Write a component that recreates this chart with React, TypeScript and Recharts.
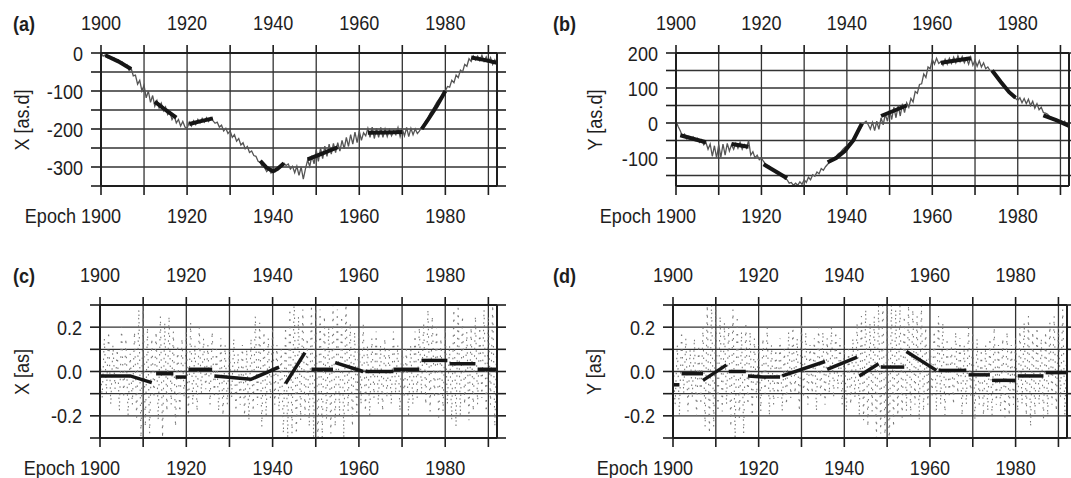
import React from "react";
import { ComposedChart, Line, XAxis, YAxis, CartesianGrid } from "recharts";

const FONT = '"Liberation Sans", Arial, sans-serif';
const INK = "#1e1e1e";
const SQUEEZE = 0.86;

const YEAR_TICKS = [1900, 1910, 1920, 1930, 1940, 1950, 1960, 1970, 1980, 1990];
const YEAR_LABELS = [1900, 1920, 1940, 1960, 1980];

// half-year samples, 1900.0 .. 1992.0
const X_DAILY = [
  0, -8, -5, -12, -9, -17, -13, -21, -18, -27,
  -24, -35, -31, -45, -40, -60, -58, -82, -72, -100,
  -85, -118, -100, -130, -112, -140, -125, -145, -132, -152,
  -142, -162, -155, -175, -165, -184, -175, -192, -180, -195,
  -198, -182, -192, -178, -188, -175, -184, -172, -182, -170,
  -180, -170, -178, -185, -182, -195, -190, -205, -198, -212,
  -205, -222, -215, -232, -225, -242, -236, -252, -246, -262,
  -258, -270, -272, -285, -288, -300, -302, -312, -305, -316,
  -308, -312, -302, -300, -294, -290, -296, -292, -305, -298,
  -315, -298, -322, -300, -332, -305, -282, -298, -270, -292,
  -255, -285, -250, -278, -245, -272, -240, -266, -238, -262,
  -236, -258, -230, -252, -222, -246, -215, -240, -208, -236,
  -205, -230, -210, -218, -198, -222, -195, -225, -198, -222,
  -196, -222, -200, -220, -202, -218, -205, -215, -196, -220,
  -200, -218, -196, -220, -198, -215, -200, -212, -205, -195,
  -188, -178, -170, -158, -150, -140, -130, -122, -115, -108,
  -100, -88, -90, -72, -78, -58, -65, -45, -50, -30,
  -35, -15, -22, -8, -18, -8, -20, -6, -22, -10,
  -25, -12, -30, -18, -32,
];

const Y_DAILY = [
  5, -10, -22, -38, -32, -45, -38, -48, -40, -50,
  -44, -55, -48, -62, -55, -75, -60, -95, -65, -100,
  -62, -98, -60, -92, -58, -80, -62, -75, -58, -72,
  -55, -75, -62, -72, -50, -92, -82, -100, -92, -105,
  -100, -110, -118, -122, -125, -132, -135, -142, -140, -148,
  -150, -160, -162, -172, -170, -178, -172, -178, -168, -175,
  -162, -170, -155, -162, -148, -152, -140, -145, -130, -135,
  -125, -118, -110, -108, -100, -95, -88, -84, -76, -70,
  -65, -58, -52, -44, -38, -28, -20, -10, 0, 5,
  -5, -18, 2, -22, 5, -18, 15, -5, 25, 5,
  38, 10, 45, 15, 50, 20, 55, 30, 58, 45,
  70, 60, 90, 85, 110, 112, 140, 130, 160, 155,
  182, 168, 185, 170, 175, 165, 182, 168, 185, 170,
  188, 172, 192, 175, 190, 172, 185, 168, 188, 165,
  180, 162, 178, 160, 172, 155, 160, 150, 148, 140,
  135, 128, 120, 110, 102, 95, 88, 82, 78, 70,
  65, 72, 58, 70, 55, 68, 50, 62, 42, 55,
  38, 45, 30, 28, 25, 18, 15, 12, 10, 5,
  8, -2, 5, -8, -12,
];

const X_RESID = [
  0.08, -0.12, 0.15, -0.1, 0.18, -0.15, 0.12, -0.08, 0.1, -0.18,
  0.2, -0.12, 0.15, -0.2, 0.08, -0.15, 0.18, -0.22, 0.28, -0.3,
  0.3, -0.25, 0.2, -0.28, 0.15, -0.12, 0.18, -0.22, 0.25, -0.3,
  0.22, -0.18, 0.25, -0.15, 0.18, -0.25, 0.12, -0.2, 0.15, -0.12,
  0.18, -0.2, 0.22, -0.15, 0.12, -0.18, 0.2, -0.1, 0.15, -0.08,
  0.12, -0.15, 0.18, -0.12, 0.1, -0.18, 0.15, -0.2, 0.12, -0.15,
  0.1, -0.12, 0.15, -0.18, 0.08, -0.15, 0.12, -0.2, 0.1, -0.22,
  0.15, -0.18, 0.25, -0.15, 0.22, -0.25, 0.18, -0.2, 0.15, -0.12,
  0.2, -0.15, 0.12, -0.18, 0.1, -0.28, 0.2, -0.3, 0.3, -0.28,
  0.35, -0.3, 0.25, -0.22, 0.28, -0.2, 0.15, -0.25, 0.3, -0.3,
  0.32, -0.35, 0.28, -0.3, 0.25, -0.22, 0.2, -0.28, 0.3, -0.25,
  0.28, -0.2, 0.25, -0.3, 0.32, -0.18, 0.22, -0.25, 0.18, -0.2,
  0.2, -0.15, 0.22, -0.18, 0.12, -0.2, 0.15, -0.12, 0.18, -0.15,
  0.12, -0.18, 0.15, -0.12, 0.1, -0.15, 0.18, -0.1, 0.12, -0.18,
  0.15, -0.12, 0.1, -0.2, 0.12, -0.15, 0.18, -0.12, 0.2, -0.1,
  0.22, -0.15, 0.28, -0.18, 0.25, -0.12, 0.2, -0.22, 0.15, -0.18,
  0.2, -0.15, 0.12, -0.22, 0.28, -0.25, 0.3, -0.2, 0.25, -0.15,
  0.18, -0.22, 0.2, -0.18, 0.25, -0.15, 0.2, -0.12, 0.28, -0.2,
  0.25, -0.15, 0.3, -0.25, 0.2,
];

const Y_RESID = [
  0.05, -0.15, 0.12, -0.2, 0.18, -0.1, 0.15, -0.18, 0.1, -0.12,
  0.15, -0.2, 0.12, -0.15, 0.2, -0.25, 0.3, -0.28, 0.32, -0.25,
  0.28, -0.2, 0.25, -0.18, 0.22, -0.15, 0.2, -0.25, 0.28, -0.3,
  0.25, -0.22, 0.18, -0.28, 0.22, -0.15, 0.18, -0.2, 0.15, -0.12,
  0.12, -0.18, 0.15, -0.1, 0.2, -0.2, 0.12, -0.15, 0.1, -0.12,
  0.15, -0.18, 0.1, -0.15, 0.18, -0.12, 0.2, -0.1, 0.15, -0.18,
  0.22, -0.12, 0.18, -0.15, 0.12, -0.1, 0.15, -0.18, 0.2, -0.12,
  0.18, -0.15, 0.15, -0.1, 0.2, -0.12, 0.18, -0.08, 0.15, -0.15,
  0.12, -0.18, 0.1, -0.15, 0.15, -0.12, 0.22, -0.2, 0.25, -0.22,
  0.28, -0.25, 0.22, -0.18, 0.25, -0.3, 0.3, -0.28, 0.35, -0.32,
  0.3, -0.35, 0.32, -0.25, 0.28, -0.2, 0.3, -0.22, 0.25, -0.18,
  0.3, -0.2, 0.28, -0.15, 0.25, -0.22, 0.3, -0.18, 0.2, -0.15,
  0.18, -0.12, 0.2, -0.18, 0.25, -0.15, 0.22, -0.2, 0.15, -0.12,
  0.12, -0.15, 0.18, -0.1, 0.15, -0.2, 0.12, -0.15, 0.2, -0.12,
  0.18, -0.22, 0.15, -0.15, 0.1, -0.2, 0.12, -0.18, 0.15, -0.2,
  0.2, -0.15, 0.12, -0.18, 0.15, -0.22, 0.18, -0.2, 0.12, -0.15,
  0.15, -0.18, 0.2, -0.15, 0.22, -0.2, 0.25, -0.25, 0.18, -0.2,
  0.2, -0.15, 0.15, -0.22, 0.18, -0.2, 0.22, -0.15, 0.25, -0.18,
  0.2, -0.12, 0.28, -0.2, 0.15,
];

// fitted segments [year, value]
const X_FITS = [
  [[1901, -6], [1904, -22], [1907, -42]],
  [[1912.5, -128], [1915, -150], [1917.5, -170]],
  [[1920.5, -187], [1923, -180], [1926, -172]],
  [[1937, -284], [1938.5, -302], [1940, -311], [1941, -305], [1942.5, -290]],
  [[1948, -280], [1951.5, -264], [1955, -248]],
  [[1962, -210], [1966, -209], [1970, -208]],
  [[1974.5, -200], [1976, -175], [1978, -140], [1980, -100]],
  [[1986, -12], [1989, -18], [1992, -26]],
];

const Y_FITS = [
  [[1901, -35], [1907, -55]],
  [[1913, -60], [1917, -68]],
  [[1920.5, -118], [1926, -158]],
  [[1935.5, -112], [1937.5, -100], [1939.5, -80], [1941.5, -50], [1943.5, -2]],
  [[1948, 20], [1954, 50]],
  [[1962, 172], [1969, 185]],
  [[1974, 150], [1976, 118], [1978, 88], [1979.5, 72]],
  [[1986, 22], [1989, 8], [1992, -8]],
];

const XR_FITS = [
  [[1900, -0.02], [1907, -0.02], [1912, -0.05]],
  [[1913, -0.01], [1917, -0.01]],
  [[1917.5, -0.025], [1920, -0.025]],
  [[1920.5, 0.01], [1926, 0.01]],
  [[1926.5, -0.02], [1935, -0.035], [1941.5, 0.02]],
  [[1943, -0.055], [1947.5, 0.085]],
  [[1949, 0.01], [1954, 0.01]],
  [[1954.5, 0.04], [1961, 0.0]],
  [[1961.5, 0.0], [1968, 0.0]],
  [[1968, 0.01], [1974, 0.01]],
  [[1974.5, 0.05], [1980.5, 0.05]],
  [[1981, 0.035], [1987, 0.035]],
  [[1987.5, 0.01], [1992, 0.01]],
];

const YR_FITS = [
  [[1900, -0.06], [1901.5, -0.06]],
  [[1902, -0.01], [1907, -0.01]],
  [[1907, -0.04], [1912.5, 0.03]],
  [[1913, 0.0], [1917, 0.0]],
  [[1917.5, -0.02], [1921, -0.025], [1925, -0.025]],
  [[1925.5, -0.02], [1935.5, 0.045]],
  [[1936, 0.01], [1943, 0.065]],
  [[1943.5, -0.02], [1948, 0.035]],
  [[1948.5, 0.02], [1954, 0.02]],
  [[1954.5, 0.09], [1961.5, 0.005]],
  [[1962, 0.005], [1968.5, 0.005]],
  [[1969, -0.015], [1974, -0.015]],
  [[1974.5, -0.04], [1980, -0.04]],
  [[1980.5, -0.02], [1986.5, -0.02]],
  [[1987, -0.005], [1992, -0.005]],
];

const DAILY_TICKS_X = [0, -50, -100, -150, -200, -250, -300, -350];
const DAILY_TICKS_Y = [200, 150, 100, 50, 0, -50, -100, -150];
const RESID_TICKS = [-0.3, -0.2, -0.1, 0, 0.1, 0.2, 0.3];

const toSeries = (vals: number[]) => vals.map((v, i) => ({ t: 1900 + i * 0.5, v }));
const toFit = (pts: number[][]) => pts.map(([t, v]) => ({ t, v }));

// narrow-looking svg text
const T = ({ x, y, anchor, dy, children }: any) => (
  <text
    transform={`translate(${x} ${y}) scale(${SQUEEZE} 1)`}
    dy={dy}
    textAnchor={anchor}
    fontFamily={FONT}
    fontSize={21}
    fill={INK}
  >
    {children}
  </text>
);

interface PanelProps {
  left: number;
  top: number;
  width: number;
  x0: number;
  x1: number;
  tag: string;
  title: string;
  titleX: number;
  domain: [number, number];
  ticks: number[];
  labels: number[];
  fmt: (v: number) => string;
  values: number[];
  fits: number[][][];
  dotted?: boolean;
}

const H = 235;
const Y0 = 53;
const Y1 = 186;

function Panel(p: PanelProps) {
  const series = toSeries(p.values);
  const margin = { top: 0, left: 0, right: p.width - p.x1 - 12, bottom: H - Y1 - 40 };
  const isLabel = (v: number) => p.labels.some((l) => Math.abs(l - v) < 1e-9);

  const topTick = (t: any) =>
    YEAR_LABELS.includes(t.payload.value) ? (
      <T x={t.x} y={30} anchor="middle">{t.payload.value}</T>
    ) : <g />;
  const bottomTick = (t: any) => {
    const v = t.payload.value;
    if (!YEAR_LABELS.includes(v)) return <g />;
    return (
      <g>
        {v === 1900 && <T x={t.x - 25} y={223} anchor="end">Epoch</T>}
        <T x={t.x} y={223} anchor="middle">{v}</T>
      </g>
    );
  };
  const leftTick = (t: any) =>
    isLabel(t.payload.value) ? (
      <T x={p.x0 - 18} y={t.y} dy="0.36em" anchor="end">{p.fmt(t.payload.value)}</T>
    ) : <g />;

  return (
    <div style={{ position: "absolute", left: p.left, top: p.top, width: p.width, height: H }}>
      <ComposedChart width={p.width} height={H} margin={margin}>
        <CartesianGrid stroke="#333" strokeWidth={1.3} />
        <XAxis
          dataKey="t" type="number" domain={[1900, 1992]} allowDataOverflow ticks={YEAR_TICKS} interval={0}
          height={40} tickSize={9} tick={bottomTick}
          axisLine={{ stroke: INK, strokeWidth: 2 }} tickLine={{ stroke: INK, strokeWidth: 1.6 }}
        />
        <XAxis
          xAxisId="top" orientation="top" dataKey="t" type="number" domain={[1900, 1992]} allowDataOverflow
          ticks={YEAR_TICKS} interval={0} height={Y0} tickSize={8} tick={topTick}
          axisLine={{ stroke: INK, strokeWidth: 2 }} tickLine={{ stroke: INK, strokeWidth: 1.6 }}
        />
        <YAxis
          type="number" domain={p.domain} allowDataOverflow ticks={p.ticks} interval={0} width={p.x0}
          tickSize={10} tick={leftTick}
          axisLine={{ stroke: INK, strokeWidth: 2 }} tickLine={{ stroke: INK, strokeWidth: 1.6 }}
        />
        <YAxis
          yAxisId="r" orientation="right" type="number" domain={p.domain} allowDataOverflow ticks={p.ticks}
          interval={0} width={12} tickSize={9} tick={() => <g />}
          axisLine={{ stroke: INK, strokeWidth: 2 }} tickLine={{ stroke: INK, strokeWidth: 1.6 }}
        />
        <Line
          data={series} dataKey="v" type="linear" dot={false} isAnimationActive={false}
          stroke={p.dotted ? "#7a7a7a" : "#555"} strokeWidth={p.dotted ? 1.1 : 1.3}
          strokeDasharray={p.dotted ? "1.5 6" : undefined}
        />
        {p.fits.map((f, i) => (
          <Line
            key={i} data={toFit(f)} dataKey="v" type="linear" dot={false} isAnimationActive={false}
            stroke="#161616" strokeWidth={p.dotted ? 3.5 : 4}
          />
        ))}
      </ComposedChart>
      <div
        style={{
          position: "absolute", left: 13, top: 13, fontFamily: FONT, fontWeight: "bold",
          fontSize: 21, lineHeight: "22px", color: INK, transform: `scaleX(${SQUEEZE})`, transformOrigin: "left",
        }}
      >
        {p.tag}
      </div>
      <div
        style={{
          position: "absolute", left: p.titleX, top: (Y0 + Y1) / 2,
          transform: `translate(-50%, -50%) rotate(-90deg) scaleX(${SQUEEZE})`,
          fontFamily: FONT, fontSize: 21, lineHeight: "22px", color: INK, whiteSpace: "nowrap",
        }}
      >
        {p.title}
      </div>
    </div>
  );
}

const fmtInt = (v: number) => String(v);
const fmtDec = (v: number) => (Math.abs(v) < 1e-9 ? "0.0" : v.toFixed(1));

export default function App() {
  return (
    <div style={{ position: "absolute", left: 0, top: 0, width: 1071, height: 478, overflow: "hidden", background: "#fff" }}>
      <Panel left={0} top={0} width={540} x0={101} x1={497} tag="(a)" title="X [as.d]" titleX={22}
        domain={[-350, 0]} ticks={DAILY_TICKS_X} labels={[0, -100, -200, -300]} fmt={fmtInt}
        values={X_DAILY} fits={X_FITS} />
      <Panel left={540} top={0} width={545} x0={136} x1={529} tag="(b)" title="Y [as.d]" titleX={55}
        domain={[-180, 200]} ticks={DAILY_TICKS_Y} labels={[200, 100, 0, -100]} fmt={fmtInt}
        values={Y_DAILY} fits={Y_FITS} />
      <Panel left={0} top={252} width={540} x0={100} x1={497} tag="(c)" title="X [as]" titleX={22}
        domain={[-0.3, 0.3]} ticks={RESID_TICKS} labels={[0.2, 0, -0.2]} fmt={fmtDec}
        values={X_RESID} fits={XR_FITS} dotted />
      <Panel left={540} top={252} width={545} x0={133} x1={527} tag="(d)" title="Y [as]" titleX={54}
        domain={[-0.3, 0.3]} ticks={RESID_TICKS} labels={[0.2, 0, -0.2]} fmt={fmtDec}
        values={Y_RESID} fits={YR_FITS} dotted />
    </div>
  );
}
